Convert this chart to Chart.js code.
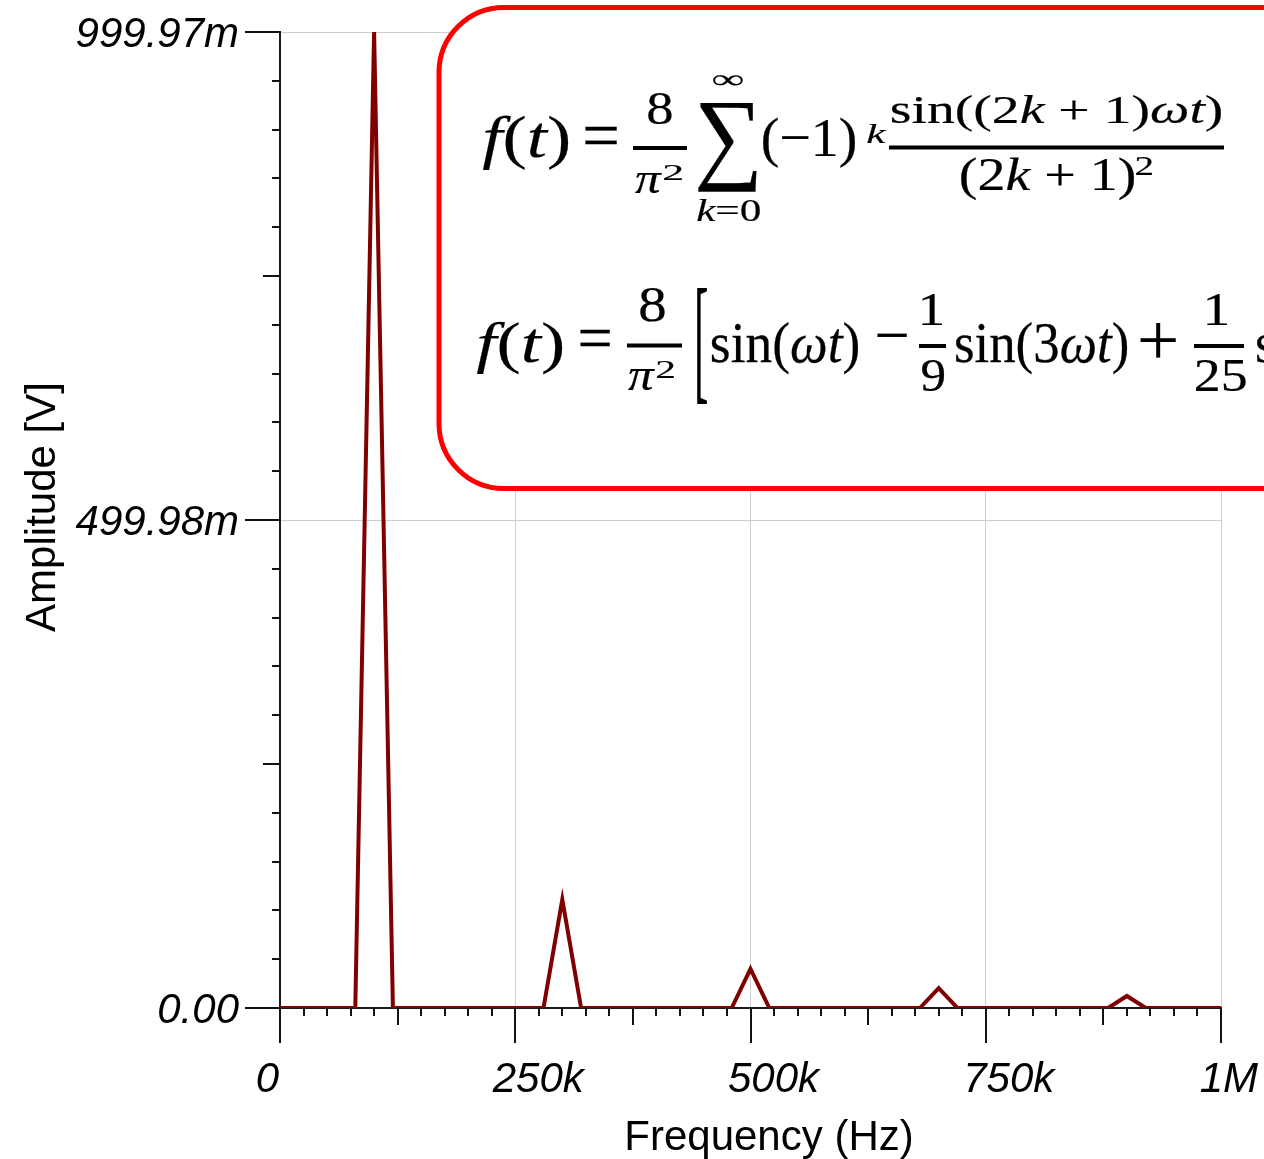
<!DOCTYPE html>
<html>
<head>
<meta charset="utf-8">
<script src="https://cdn.jsdelivr.net/npm/chart.js@4"></script>
<style>
  html, body { margin: 0; background: #fff; }
  #wrap { width: 1264px; height: 1159px; position: relative; }
</style>
</head>
<body>
<div id="wrap"><canvas id="spectrum"></canvas></div>
<script>
// FFT of the triangle wave: frequency bins (Hz) and amplitudes (V)
const FREQ_HZ = [
  0, 20000, 40000, 60000, 80000, 100000, 120000, 140000, 160000, 180000,
  200000, 220000, 240000, 260000, 280000, 300000, 320000, 340000, 360000, 380000,
  400000, 420000, 440000, 460000, 480000, 500000, 520000, 540000, 560000, 580000,
  600000, 620000, 640000, 660000, 680000, 700000, 720000, 740000, 760000, 780000,
  800000, 820000, 840000, 860000, 880000, 900000, 920000, 940000, 960000, 980000,
  1000000
];
const AMPLITUDE_V = [
  0, 0, 0, 0, 0, 0.99997, 0, 0, 0, 0,
  0, 0, 0, 0, 0, 0.1111, 0, 0, 0, 0,
  0, 0, 0, 0, 0, 0.0400, 0, 0, 0, 0,
  0, 0, 0, 0, 0, 0.0204, 0, 0, 0, 0,
  0, 0, 0, 0, 0, 0.0123, 0, 0, 0, 0,
  0
];
const X_TICKS = [0, 250000, 500000, 750000, 1000000];
const X_TICK_LABELS = ['0', '250k', '500k', '750k', '1M'];
const Y_MAX = 0.99997;
const Y_TICKS = [0, Y_MAX / 2, Y_MAX];
const Y_TICK_LABELS = ['0.00', '499.98m', '999.97m'];

const AXIS_FONT = '42px "Liberation Sans", Arial, sans-serif';
const TICK_FONT = 'italic ' + AXIS_FONT;
const MATH = '"Liberation Serif", "DejaVu Serif", serif';
const GRID = '#cfcfcf';

// draw a run of math text so that its ink fills the given box;
// uniform=true keeps the glyph proportions and centres it vertically
function mathRun(ctx, segs, box, uniform) {
  if (typeof segs === 'string') segs = [[segs, 0]];
  const S = 100;
  let adv = 0, asc = 0, desc = 0, inkL = 0, inkR = 0;
  const parts = segs.map(([t, it], i) => {
    ctx.font = (it ? 'italic ' : '') + S + 'px ' + MATH;
    const m = ctx.measureText(t);
    if (i === 0) inkL = -m.actualBoundingBoxLeft;
    inkR = adv + m.actualBoundingBoxRight;
    asc = Math.max(asc, m.actualBoundingBoxAscent);
    desc = Math.max(desc, m.actualBoundingBoxDescent);
    const p = { t, font: ctx.font, x: adv };
    adv += m.width;
    return p;
  });
  const [x0, y0, x1, y1] = box;
  const sx = (x1 - x0) / (inkR - inkL);
  const sy = uniform ? sx : (y1 - y0) / (asc + desc);
  const base = uniform ? (y0 + y1) / 2 + (asc - desc) / 2 * sy : y0 + asc * sy;
  ctx.save();
  ctx.translate(x0 - inkL * sx, base);
  ctx.scale(sx, sy);
  ctx.textAlign = 'left';
  ctx.textBaseline = 'alphabetic';
  ctx.fillStyle = '#000';
  ctx.strokeStyle = '#000';
  ctx.lineWidth = 0.25 / Math.max(sx, sy);
  parts.forEach(p => {
    ctx.font = p.font;
    ctx.fillText(p.t, p.x, 0);
    ctx.strokeText(p.t, p.x, 0);
  });
  ctx.restore();
}

function fracBar(ctx, x0, x1, y) {
  ctx.fillStyle = '#000';
  ctx.fillRect(x0, y - 2, x1 - x0, 4);
}

const I = 1;
const U = true;
const FORMULA_TOP = [
  [[['f', I], ['(', 0], ['t', I], [')', 0]], [483, 115, 568, 170]],
  ['=', [585, 132, 617, 153], U],
  ['8', [648, 93, 672, 125]],
  [[['π', I]], [635, 172, 662, 193]],
  ['2', [664, 164, 682, 180]],
  ['∑', [698, 102, 757, 192]],
  ['∞', [713, 75, 743, 88]],
  [[['k', I], ['=0', 0]], [697, 200, 760, 222]],
  ['(−1)', [763, 117, 855, 168]],
  [[['k', I]], [867, 124, 886, 143]],
  [[['sin((2', 0], ['k', I], [' + 1)', 0], ['ωt', I], [')', 0]], [892, 95, 1221, 132]],
  [[['(2', 0], ['k', I], [' + 1)', 0]], [961, 157, 1134, 200]],
  ['2', [1136, 156, 1152, 175]]
];
const FORMULA_SERIES = [
  [[['f', I], ['(', 0], ['t', I], [')', 0]], [477, 322, 562, 375]],
  ['=', [580, 335, 610, 355], U],
  ['8', [640, 288, 665, 322]],
  [[['π', I]], [628, 368, 655, 390]],
  ['2', [657, 361, 674, 378]],
  ['[', [697, 287, 707, 403]],
  [[['sin(', 0], ['ωt', I], [')', 0]], [712, 322, 858, 375]],
  ['−', [877, 343, 907, 347], U],
  ['1', [922, 295, 942, 325]],
  ['9', [922, 360, 944, 392]],
  [[['sin(3', 0], ['ωt', I], [')', 0]], [956, 322, 1127, 375]],
  ['+', [1140, 326, 1176, 361], U],
  ['1', [1207, 295, 1227, 325]],
  ['25', [1196, 360, 1246, 392]],
  [[['sin(5', 0], ['ωt', I], [')', 0]], [1257, 322, 1428, 375]]
];
const BARS = [[633, 687, 148], [889, 1224, 147.5], [627, 682, 345.5], [919, 946, 346], [1194, 1244, 346]];

const axisDecor = {
  id: 'axisDecor',
  beforeDatasetsDraw(chart) {
    const { ctx, chartArea: a, scales: { x, y } } = chart;
    ctx.save();
    ctx.strokeStyle = '#111';
    ctx.lineWidth = 2;
    ctx.beginPath();
    for (let i = 0; i <= 40; i++) {
      const px = Math.round(x.getPixelForValue(i * 25000));
      const len = i % 10 === 0 ? 35 : i % 5 === 0 ? 17 : 8;
      ctx.moveTo(px, a.bottom); ctx.lineTo(px, a.bottom + len);
    }
    for (let i = 0; i <= 20; i++) {
      const py = Math.round(y.getPixelForValue(i * Y_MAX / 20));
      const len = i % 10 === 0 ? 35 : i % 5 === 0 ? 17 : 8;
      ctx.moveTo(a.left - len, py); ctx.lineTo(a.left, py);
    }
    ctx.stroke();
    ctx.restore();
  },
  afterDraw(chart) {
    const { ctx, scales: { x, y }, width } = chart;
    ctx.save();
    ctx.fillStyle = '#000';
    ctx.font = TICK_FONT;
    ctx.textBaseline = 'alphabetic';
    ctx.textAlign = 'right';
    Y_TICKS.forEach((v, i) => ctx.fillText(Y_TICK_LABELS[i], 239, y.getPixelForValue(v) + 15));
    X_TICKS.forEach((v, i) => {
      const px = x.getPixelForValue(v);
      const lbl = X_TICK_LABELS[i];
      if (i === 0) { ctx.textAlign = 'right'; ctx.fillText(lbl, px - 1, 1092); return; }
      const w = ctx.measureText(lbl).width;
      ctx.textAlign = 'center';
      ctx.fillText(lbl, Math.min(px + 23, width - w / 2 - 6), 1092);
    });
    ctx.font = AXIS_FONT;
    ctx.textAlign = 'center';
    ctx.fillText('Frequency (Hz)', 769, 1150);
    ctx.translate(55, 507);
    ctx.rotate(-Math.PI / 2);
    ctx.fillText('Amplitude [V]', 0, 0);
    ctx.restore();

    // formula panel
    ctx.save();
    ctx.beginPath();
    ctx.roundRect(439, 7.5, 900, 481, 65);
    ctx.fillStyle = '#fff';
    ctx.fill();
    ctx.lineWidth = 5;
    ctx.strokeStyle = '#ff0000';
    ctx.stroke();
    [...FORMULA_TOP, ...FORMULA_SERIES].forEach(([t, box, u]) => mathRun(ctx, t, box, u));
    BARS.forEach(([x0, x1, yy]) => fracBar(ctx, x0, x1, yy));
    ctx.restore();
  }
};

new Chart(document.getElementById('spectrum'), {
  type: 'line',
  data: {
    datasets: [{
      data: FREQ_HZ.map((f, i) => ({ x: f, y: AMPLITUDE_V[i] })),
      borderColor: '#800000',
      borderWidth: 4,
      borderJoinStyle: 'miter',
      pointRadius: 0,
      tension: 0
    }]
  },
  options: {
    responsive: true,
    maintainAspectRatio: false,
    animation: false,
    layout: { padding: { top: 32, right: 43, left: 0, bottom: 0 } },
    plugins: { legend: { display: false }, tooltip: { enabled: false } },
    scales: {
      x: {
        type: 'linear',
        min: 0,
        max: 1000000,
        afterBuildTicks: s => { s.ticks = X_TICKS.map(value => ({ value })); },
        afterFit: s => { s.height = 151; },
        ticks: { display: false },
        grid: { color: c => (c.tick && c.tick.value === 0 ? 'rgba(0,0,0,0)' : GRID), lineWidth: 1, drawTicks: false },
        border: { color: '#1a1a1a', width: 2 }
      },
      y: {
        min: 0,
        max: Y_MAX,
        afterBuildTicks: s => { s.ticks = Y_TICKS.map(value => ({ value })); },
        afterFit: s => { s.width = 280; },
        ticks: { display: false },
        grid: { color: c => (c.tick && c.tick.value === 0 ? 'rgba(0,0,0,0)' : GRID), lineWidth: 1, drawTicks: false },
        border: { color: '#1a1a1a', width: 2 }
      }
    }
  },
  plugins: [axisDecor]
});
</script>
</body>
</html>
